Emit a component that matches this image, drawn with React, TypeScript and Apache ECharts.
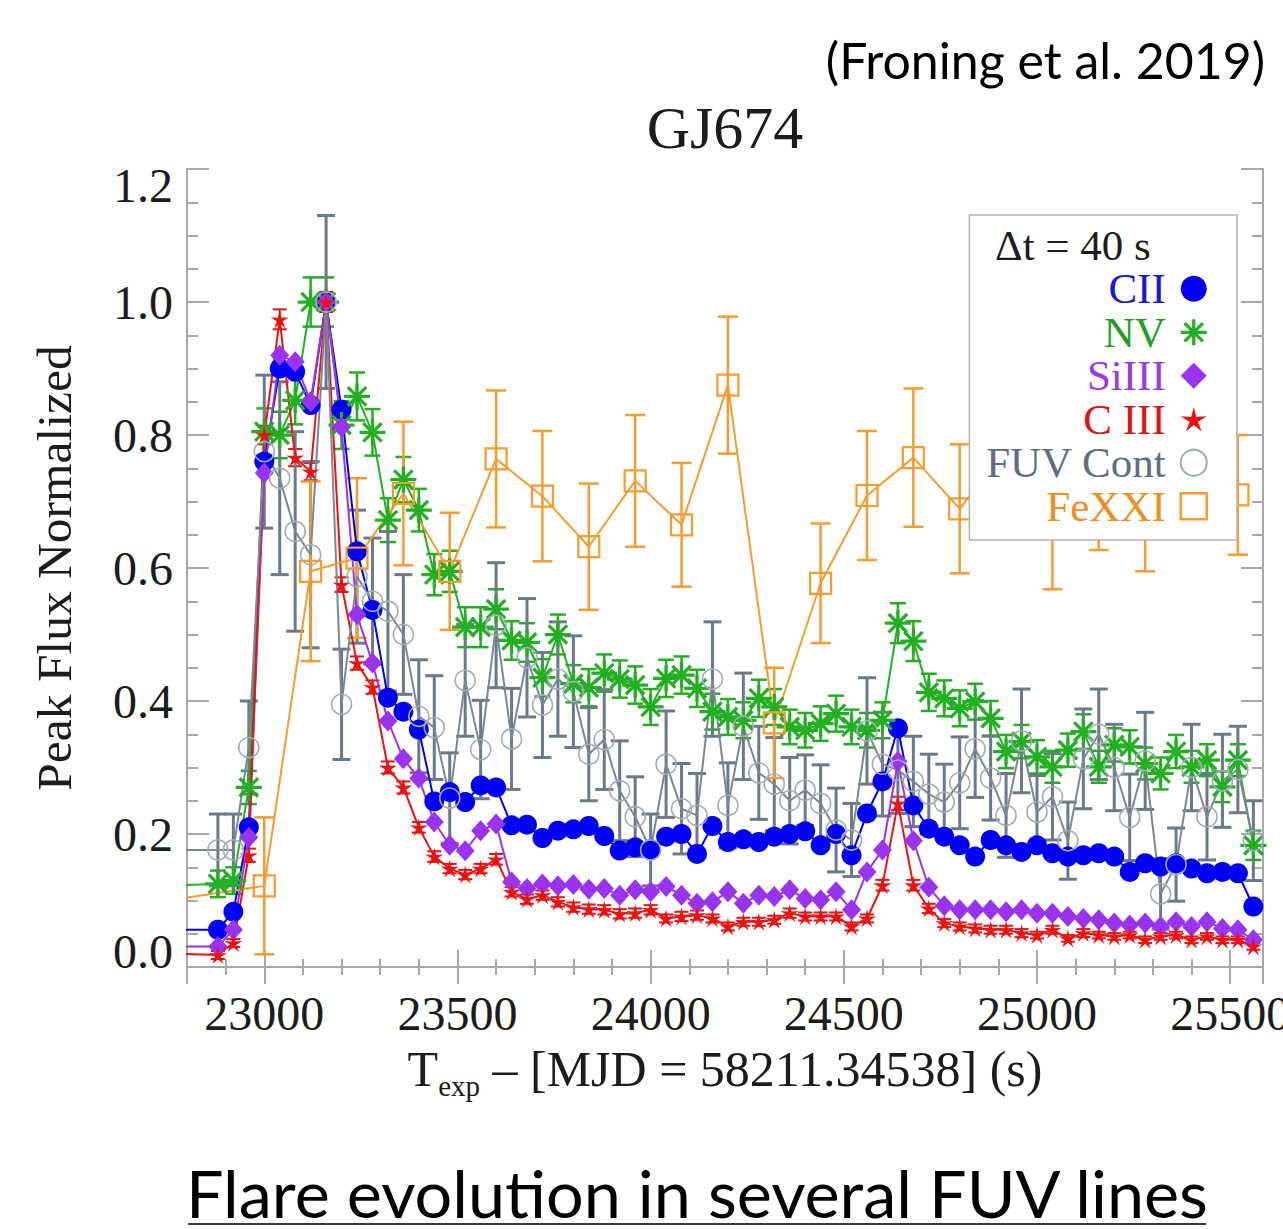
import React, { useEffect, useRef } from 'react';
import * as echarts from 'echarts';

const SERIF = "'Liberation Serif', 'Times New Roman', serif";
const SANS = "Lato, 'Open Sans', sans-serif";

// Exposure mid-times (s) of the 40 s bins; the first entry sits left of the plotted window.
const lineTimes = [
  22720, 22880, 22920, 22960, 23000, 23040, 23080, 23120, 23160, 23200,
  23240, 23280, 23320, 23360, 23400, 23440, 23480, 23520, 23560, 23600,
  23640, 23680, 23720, 23760, 23800, 23840, 23880, 23920, 23960, 24000,
  24040, 24080, 24120, 24160, 24200, 24240, 24280, 24320, 24360, 24400,
  24440, 24480, 24520, 24560, 24600, 24640, 24680, 24720, 24760, 24800,
  24840, 24880, 24920, 24960, 25000, 25040, 25080, 25120, 25160, 25200,
  25240, 25280, 25320, 25360, 25400, 25440, 25480, 25520, 25560,
];

const ciiFlux = [
  0.056, 0.056, 0.083, 0.21, 0.76, 0.90, 0.895, 0.845, 1.0, 0.838,
  0.625, 0.537, 0.405, 0.384, 0.357, 0.249, 0.263, 0.248, 0.273, 0.27,
  0.213, 0.214, 0.194, 0.205, 0.207, 0.212, 0.197, 0.175, 0.18, 0.177,
  0.196, 0.2, 0.17, 0.212, 0.188, 0.192, 0.188, 0.196, 0.2, 0.204,
  0.183, 0.2, 0.168, 0.231, 0.279, 0.359, 0.243, 0.208, 0.196, 0.183,
  0.166, 0.191, 0.183, 0.173, 0.183, 0.171, 0.166, 0.168, 0.171, 0.166,
  0.143, 0.156, 0.151, 0.156, 0.148, 0.141, 0.143, 0.141, 0.091,
];

const nvFlux = [
  0.122, 0.125, 0.13, 0.27, 0.805, 0.80, 0.852, 1.0, 1.0, 0.815,
  0.858, 0.804, 0.672, 0.733, 0.687, 0.59, 0.595, 0.511, 0.511, 0.538,
  0.491, 0.488, 0.435, 0.50, 0.426, 0.42, 0.442, 0.433, 0.424, 0.391,
  0.434, 0.439, 0.419, 0.384, 0.376, 0.371, 0.404, 0.391, 0.361, 0.356,
  0.366, 0.381, 0.361, 0.356, 0.371, 0.517, 0.49, 0.413, 0.404, 0.389,
  0.399, 0.374, 0.324, 0.339, 0.316, 0.301, 0.326, 0.354, 0.301, 0.334,
  0.331, 0.306, 0.291, 0.324, 0.301, 0.311, 0.271, 0.311, 0.183,
];

const nvErr = [
  null, 0.02, 0.02, 0.025, 0.035, 0.035, 0.036, 0.037, 0.037, 0.036,
  0.036, 0.035, 0.033, 0.034, 0.032, 0.031, 0.031, 0.03, 0.03, 0.03,
  0.029, 0.029, 0.028, 0.03, 0.028, 0.028, 0.028, 0.028, 0.028, 0.027,
  0.028, 0.028, 0.028, 0.027, 0.027, 0.027, 0.028, 0.027, 0.026, 0.026,
  0.026, 0.027, 0.026, 0.026, 0.027, 0.03, 0.03, 0.028, 0.027, 0.027,
  0.027, 0.026, 0.025, 0.025, 0.025, 0.024, 0.025, 0.026, 0.024, 0.025,
  0.025, 0.024, 0.024, 0.025, 0.024, 0.024, 0.023, 0.024, 0.022,
];

const siiiFlux = [
  0.031, 0.031, 0.056, 0.195, 0.743, 0.92, 0.91, 0.85, 1.0, 0.812,
  0.53, 0.457, 0.37, 0.313, 0.284, 0.218, 0.183, 0.175, 0.205, 0.215,
  0.128, 0.118, 0.125, 0.122, 0.124, 0.117, 0.118, 0.108, 0.116, 0.113,
  0.121, 0.108, 0.096, 0.098, 0.113, 0.096, 0.108, 0.106, 0.116, 0.103,
  0.101, 0.113, 0.086, 0.143, 0.176, 0.309, 0.19, 0.12, 0.092, 0.086,
  0.086, 0.086, 0.083, 0.086, 0.081, 0.081, 0.076, 0.073, 0.071, 0.066,
  0.063, 0.066, 0.061, 0.068, 0.061, 0.068, 0.058, 0.056, 0.041,
];

const ciiiFlux = [
  0.021, 0.018, 0.036, 0.168, 0.80, 0.974, 0.766, 0.745, 1.0, 0.575,
  0.457, 0.421, 0.30, 0.27, 0.21, 0.166, 0.148, 0.139, 0.148, 0.162,
  0.113, 0.102, 0.108, 0.098, 0.09, 0.087, 0.086, 0.08, 0.081, 0.086,
  0.073, 0.076, 0.078, 0.073, 0.061, 0.068, 0.068, 0.071, 0.081, 0.076,
  0.076, 0.076, 0.061, 0.073, 0.123, 0.246, 0.123, 0.088, 0.066, 0.061,
  0.058, 0.056, 0.056, 0.051, 0.048, 0.056, 0.043, 0.051, 0.048, 0.046,
  0.048, 0.041, 0.046, 0.048, 0.041, 0.046, 0.041, 0.041, 0.031,
];

const ciiiErr = [
  null, 0.006, 0.006, 0.01, 0.014, 0.015, 0.013, 0.013, 0.015, 0.011,
  0.01, 0.01, 0.009, 0.009, 0.008, 0.008, 0.007, 0.007, 0.007, 0.008,
  0.007, 0.007, 0.007, 0.007, 0.007, 0.007, 0.007, 0.007, 0.007, 0.007,
  0.006, 0.007, 0.007, 0.006, 0.006, 0.006, 0.006, 0.006, 0.007, 0.006,
  0.006, 0.006, 0.006, 0.006, 0.008, 0.01, 0.008, 0.007, 0.006, 0.006,
  0.006, 0.006, 0.006, 0.006, 0.005, 0.006, 0.005, 0.006, 0.005, 0.005,
  0.005, 0.005, 0.005, 0.005, 0.005, 0.005, 0.005, 0.005, 0.005,
];

const fuvFlux = [
  0.176, 0.176, 0.176, 0.33, 0.775, 0.735, 0.655, 0.62, 1.0, 0.395,
  0.587, 0.55, 0.535, 0.50, 0.377, 0.36, 0.254, 0.431, 0.327, 0.514,
  0.343, 0.465, 0.394, 0.433, 0.414, 0.32, 0.342, 0.265, 0.226, 0.176,
  0.305, 0.238, 0.228, 0.433, 0.243, 0.362, 0.292, 0.275, 0.25, 0.266,
  0.246, 0.206, 0.191, 0.355, 0.305, 0.296, 0.279, 0.26, 0.248, 0.277,
  0.328, 0.284, 0.228, 0.34, 0.233, 0.256, 0.19, 0.313, 0.35, 0.3,
  0.225, 0.31, 0.11, 0.154, 0.3, 0.226, 0.28, 0.297, 0.19,
];

const fuvErr = [
  null, 0.054, 0.054, 0.07, 0.115, 0.145, 0.15, 0.14, 0.13, 0.083,
  0.1, 0.095, 0.12, 0.09, 0.085, 0.078, 0.068, 0.084, 0.074, 0.094,
  0.076, 0.089, 0.079, 0.086, 0.084, 0.07, 0.075, 0.075, 0.06, 0.054,
  0.08, 0.068, 0.063, 0.086, 0.064, 0.08, 0.07, 0.07, 0.065, 0.053,
  0.058, 0.063, 0.055, 0.08, 0.078, 0.065, 0.068, 0.06, 0.057, 0.069,
  0.073, 0.063, 0.063, 0.078, 0.055, 0.065, 0.058, 0.075, 0.068, 0.065,
  0.065, 0.073, 0.053, 0.055, 0.065, 0.065, 0.07, 0.065, 0.06,
];

// Fe XXI is binned more coarsely (120 s); first entry lies left of the window.
const fexxiTimes = [
  22760, 23000, 23120, 23240, 23360, 23480, 23600, 23720, 23840, 23960, 24080, 24200,
  24320, 24440, 24560, 24680, 24800, 24920, 25040, 25160, 25280, 25400, 25520,
];
const fexxiFlux = [
  0.101, 0.122, 0.595, 0.615, 0.712, 0.595, 0.764, 0.708, 0.632, 0.731, 0.665, 0.875,
  0.367, 0.577, 0.709, 0.766, 0.689, 0.78, 0.665, 0.722, 0.69, 0.76, 0.71,
];
const fexxiErr = [
  null, 0.103, 0.135, 0.12, 0.108, 0.088, 0.103, 0.098, 0.095, 0.099, 0.093, 0.103,
  0.083, 0.09, 0.097, 0.104, 0.097, 0.1, 0.097, 0.095, 0.095, 0.1, 0.09,
];

const legendNames = ['CII', 'NV', 'SiIII', 'C III', 'FUV Cont', 'FeXXI'];

const BLUE = '#0000f5';
const GREEN = '#22b022';
const PURPLE = '#9a33f0';
const RED = '#f01010';
const SLATE_LINE = '#7b8797';
const SLATE_BAR = '#6c798a';
const SLATE_RING = '#a4acb6';
const ORANGE = '#f59c2c';
const FRAME = '#a8a8a8';
const INK = '#1c1c1c';

const ASTERISK =
  'path://M10.5 0L13.5 0L13.5 24L10.5 24Z M0 10.5L24 10.5L24 13.5L0 13.5Z ' +
  'M2.44 4.56L4.56 2.44L21.56 19.44L19.44 21.56Z M19.44 2.44L21.56 4.56L4.56 21.56L2.44 19.44Z';
const STAR =
  'path://M10 0L11.88 7.41L19.51 6.91L13.04 10.99L15.88 18.09L10 13.2L4.12 18.09L6.96 10.99L0.49 6.91L8.12 7.41Z';

const pairs = (ts: number[], vs: number[]) => ts.map((t, i) => [t, vs[i]]);
const bars = (ts: number[], vs: number[], es: (number | null)[]) =>
  ts.flatMap((t, i) => (es[i] == null ? [] : [[t, vs[i] - (es[i] as number), vs[i] + (es[i] as number)]]));

function errorBars(name: string, data: number[][], color: string, lineWidth: number, capHalf: number) {
  return {
    type: 'custom',
    name,
    data,
    clip: true,
    silent: true,
    encode: { x: 0, y: [1, 2] },
    renderItem: (_params: any, api: any) => {
      const t = api.value(0);
      const lo = api.coord([t, api.value(1)]);
      const hi = api.coord([t, api.value(2)]);
      const style = { stroke: color, lineWidth, fill: 'none' };
      return {
        type: 'group',
        children: [
          { type: 'line', shape: { x1: lo[0], y1: lo[1], x2: hi[0], y2: hi[1] }, style },
          { type: 'line', shape: { x1: lo[0] - capHalf, y1: lo[1], x2: lo[0] + capHalf, y2: lo[1] }, style },
          { type: 'line', shape: { x1: hi[0] - capHalf, y1: hi[1], x2: hi[0] + capHalf, y2: hi[1] }, style },
        ],
      };
    },
  };
}

function fluxLine(name: string, data: number[][], lineColor: string, symbol: string, symbolSize: any, itemStyle: any) {
  return {
    type: 'line',
    name,
    data,
    symbol,
    symbolSize,
    showSymbol: true,
    showAllSymbol: true,
    clip: true,
    lineStyle: { color: lineColor, width: 2 },
    itemStyle,
    emphasis: { disabled: true },
  };
}

const tickStyle = { color: FRAME, width: 2 };

function buildOption() {
  const xCommon = {
    type: 'value',
    min: 22800,
    max: 25585,
    splitNumber: 5,
    axisLine: { show: true, lineStyle: tickStyle },
    axisTick: { show: true, inside: true, length: 17, lineStyle: tickStyle },
    minorTick: { show: true, splitNumber: 5, length: 8, lineStyle: tickStyle },
    splitLine: { show: false },
    minorSplitLine: { show: false },
  };
  const yCommon = {
    type: 'value',
    min: 0,
    max: 1.2,
    interval: 0.2,
    axisLine: { show: true, lineStyle: tickStyle },
    axisTick: { show: true, inside: true, length: 22, lineStyle: tickStyle },
    minorTick: { show: true, splitNumber: 4, length: 11, lineStyle: tickStyle },
    splitLine: { show: false },
    minorSplitLine: { show: false },
  };

  return {
    animation: false,
    backgroundColor: '#ffffff',
    grid: { left: 187, right: 20, top: 169, bottom: 262, containLabel: false, outerBoundsMode: 'none' },
    xAxis: [
      {
        ...xCommon,
        position: 'bottom',
        axisLabel: {
          show: true,
          margin: 22,
          fontFamily: SERIF,
          fontSize: 48,
          color: INK,
          showMinLabel: false,
          showMaxLabel: false,
          formatter: (v: number) => String(Math.round(v)),
        },
        name: '{a|T}{b|exp}{a| – [MJD = 58211.34538] (s)}',
        nameLocation: 'middle',
        nameGap: 70,
        nameMoveOverlap: false,
        nameTextStyle: {
          rich: {
            a: { fontFamily: SERIF, fontSize: 50, color: INK, verticalAlign: 'middle' },
            b: { fontFamily: SERIF, fontSize: 29, color: INK, padding: [34, 0, 0, 0], verticalAlign: 'middle' },
          },
        },
      },
      { ...xCommon, position: 'top', axisLabel: { show: false } },
    ],
    yAxis: [
      {
        ...yCommon,
        position: 'left',
        axisLabel: {
          show: true,
          margin: 14,
          fontFamily: SERIF,
          fontSize: 48,
          lineHeight: 32,
          color: INK,
          formatter: (v: number) => v.toFixed(1),
          verticalAlignMinLabel: 'bottom',
          verticalAlignMaxLabel: 'top',
        },
        name: 'Peak Flux Normalized',
        nameLocation: 'middle',
        nameGap: 108,
        nameMoveOverlap: false,
        nameTextStyle: { fontFamily: SERIF, fontSize: 49.5, color: INK },
      },
      { ...yCommon, position: 'right', axisLabel: { show: false } },
    ],
    legend: {
      orient: 'vertical',
      right: 46,
      top: 215,
      align: 'right',
      itemGap: 0,
      itemWidth: 26,
      itemHeight: 26,
      padding: [52, 29, 12, 16],
      backgroundColor: '#ffffff',
      borderColor: '#b4b4b4',
      borderWidth: 1.5,
      borderRadius: 0,
      selectedMode: false,
      textStyle: { fontFamily: SERIF, fontSize: 43, lineHeight: 43.5, padding: [0, 10, 0, 0] },
      data: [
        { name: legendNames[0], icon: 'circle', itemStyle: { color: BLUE, borderWidth: 0 }, textStyle: { color: '#1818d8' } },
        { name: legendNames[1], icon: ASTERISK, itemStyle: { color: GREEN, borderWidth: 0 }, textStyle: { color: '#1d9e1d' } },
        { name: legendNames[2], icon: 'diamond', itemStyle: { color: PURPLE, borderWidth: 0 }, textStyle: { color: '#9a3ae6' } },
        { name: legendNames[3], icon: STAR, itemStyle: { color: RED, borderWidth: 0 }, textStyle: { color: '#dc1414' } },
        {
          name: legendNames[4],
          icon: 'circle',
          itemStyle: { color: 'rgba(255,255,255,0)', borderColor: SLATE_RING, borderWidth: 2 },
          textStyle: { color: '#5f6e80' },
        },
        {
          name: legendNames[5],
          icon: 'rect',
          itemStyle: { color: 'rgba(255,255,255,0)', borderColor: ORANGE, borderWidth: 2.5 },
          textStyle: { color: '#ef8e22' },
        },
      ],
    },
    graphic: [
      {
        type: 'text',
        z: 100,
        x: 1265,
        y: 60,
        style: { text: '(Froning et al. 2019)', fontFamily: SANS, fontSize: 50, fill: '#000', align: 'right', verticalAlign: 'middle' },
      },
      {
        type: 'text',
        z: 100,
        x: 725,
        y: 128,
        style: { text: 'GJ674', fontFamily: SERIF, fontSize: 60, fill: INK, align: 'center', verticalAlign: 'middle' },
      },
      {
        type: 'text',
        z: 100,
        x: 995,
        y: 245,
        style: { text: 'Δt = 40 s', fontFamily: SERIF, fontSize: 43, fill: INK, align: 'left', verticalAlign: 'middle' },
      },
      {
        type: 'text',
        z: 100,
        x: 697,
        y: 1192,
        style: {
          text: 'Flare evolution in several FUV lines',
          fontFamily: SANS,
          fontSize: 66.5,
          lineHeight: 56,
          fill: '#000',
          align: 'center',
          verticalAlign: 'middle',
        },
      },
      {
        type: 'line',
        z: 100,
        shape: { x1: 188, y1: 1224, x2: 1206, y2: 1224 },
        style: { stroke: '#3a3a3a', lineWidth: 2 },
      },
    ],
    series: [
      fluxLine(legendNames[0], pairs(lineTimes, ciiFlux), BLUE, 'circle', 20, { color: BLUE }),
      errorBars('NV err', bars(lineTimes, nvFlux, nvErr), GREEN, 2.5, 8),
      fluxLine(legendNames[1], pairs(lineTimes, nvFlux), GREEN, ASTERISK, 26, { color: GREEN }),
      fluxLine(legendNames[2], pairs(lineTimes, siiiFlux), PURPLE, 'diamond', [19, 21], { color: PURPLE }),
      errorBars('C III err', bars(lineTimes, ciiiFlux, ciiiErr), RED, 2, 7),
      fluxLine(legendNames[3], pairs(lineTimes, ciiiFlux), RED, STAR, 18, { color: RED }),
      errorBars('FUV err', bars(lineTimes, fuvFlux, fuvErr), SLATE_BAR, 3, 9),
      fluxLine(legendNames[4], pairs(lineTimes, fuvFlux), SLATE_LINE, 'circle', 20, {
        color: 'rgba(255,255,255,0)',
        borderColor: SLATE_RING,
        borderWidth: 1.6,
      }),
      errorBars('FeXXI err', bars(fexxiTimes, fexxiFlux, fexxiErr), ORANGE, 2.5, 10),
      fluxLine(legendNames[5], pairs(fexxiTimes, fexxiFlux), ORANGE, 'rect', 21, {
        color: 'rgba(255,255,255,0)',
        borderColor: ORANGE,
        borderWidth: 2.2,
      }),
    ],
  };
}

export default function App() {
  const ref = useRef<HTMLDivElement>(null);
  useEffect(() => {
    if (!ref.current) return;
    const chart = echarts.init(ref.current, undefined, { renderer: 'svg' });
    chart.setOption(buildOption() as any);
    return () => chart.dispose();
  }, []);
  return (
    <div
      ref={ref}
      style={{ position: 'fixed', left: 0, top: 0, width: 1283, height: 1229, background: '#ffffff' }}
    />
  );
}
